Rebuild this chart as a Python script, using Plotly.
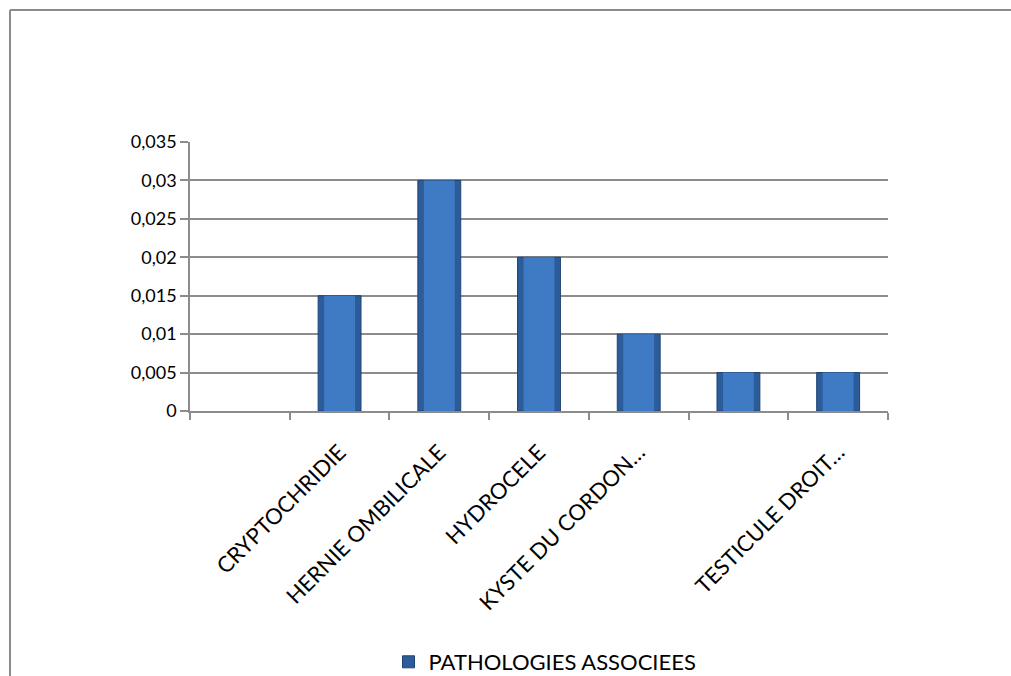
import plotly.graph_objects as go

categories = [" ", "CRYPTOCHRIDIE", "HERNIE OMBILICALE", "HYDROCELE", "KYSTE DU CORDON…", "  ", "TESTICULE DROIT…"]
values = [None, 0.015, 0.03, 0.02, 0.01, 0.005, 0.005]
series_name = "PATHOLOGIES ASSOCIEES"
y_ticks = [0, 0.005, 0.01, 0.015, 0.02, 0.025, 0.03, 0.035]

W, H = 1011, 676
L, R, T, B = 190, 123, 142, 265
pw, ph = W - L - R, H - T - B

def px(x):
    return (x - L) / pw

def py(y):
    return (H - B - y) / ph

font = "Lato, 'Open Sans', sans-serif"

fig = go.Figure()
fig.add_trace(go.Bar(
    x=categories, y=values, name=series_name, width=0.43,
    marker=dict(color="#2C5C9A", line=dict(color="#1F4373", width=1)),
    showlegend=True,
))
fig.add_trace(go.Bar(
    x=categories, y=values, name=series_name, width=0.31,
    marker=dict(color="#3E7BC4", line=dict(width=0)),
    showlegend=False, hoverinfo="skip",
))

border = dict(color="#8C8C8C", width=2)
fig.update_layout(
    width=W, height=H,
    margin=dict(l=L, r=R, t=T, b=B, autoexpand=False),
    paper_bgcolor="white", plot_bgcolor="white",
    separators=", ",
    barmode="overlay",
    font=dict(family=font, size=17, color="black"),
    showlegend=True,
    legend=dict(x=px(545), y=py(662), xanchor="center", yanchor="middle",
                orientation="h", font=dict(size=22), itemwidth=30),
    shapes=[
        dict(type="line", xref="paper", yref="paper",
             x0=px(10), x1=px(1060), y0=py(10), y1=py(10), line=border),
        dict(type="line", xref="paper", yref="paper",
             x0=px(10), x1=px(10), y0=py(10), y1=py(700), line=border),
    ],
)

fig.update_xaxes(
    type="category", tickson="boundaries", ticks="outside", ticklen=7,
    tickcolor="#8C8C8C", tickwidth=1.5,
    showline=True, linecolor="#8C8C8C", linewidth=1.5,
    showgrid=False, tickangle=-45, tickfont=dict(size=22),
    automargin=False, ticklabelstandoff=18,
)
fig.update_yaxes(
    range=[0, 0.035], tickvals=y_ticks, tickformat=".3~f",
    showgrid=True, gridcolor="#8C8C8C", gridwidth=1.5,
    ticks="outside", ticklen=8, tickcolor="#8C8C8C", tickwidth=1.5,
    showline=True, linecolor="#8C8C8C", linewidth=1.5,
    zeroline=False, tickfont=dict(size=18), automargin=False,
)

fig.write_html("out.html")
